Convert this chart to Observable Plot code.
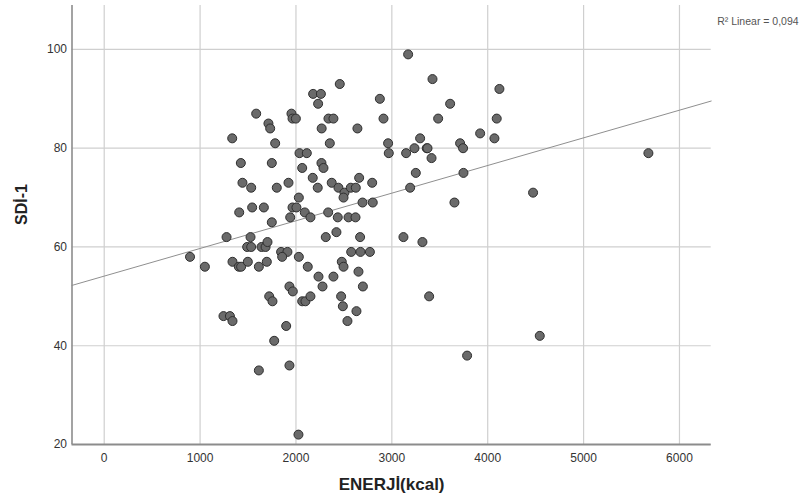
<!DOCTYPE html>
<html>
<head>
<meta charset="utf-8">
<script src="https://cdn.jsdelivr.net/npm/d3@7"></script>
<script src="https://cdn.jsdelivr.net/npm/@observablehq/plot@0.6"></script>
<style>
  html, body { margin: 0; padding: 0; background: #fff; }
</style>
</head>
<body>
<div id="chart"></div>
<script>
// ENERJİ (kcal) values
const energy = [
  1585, 1713, 1731, 1953, 1964, 1999, 1335, 1783, 2037, 2113,
  1425, 1748, 2065, 1442, 1533, 1800, 1922, 2030, 1408, 1543,
  1665, 1964, 2005, 2092, 1748, 1940, 2151, 2179, 2260, 2231,
  2457, 2339, 2391, 2268, 2641, 2353, 2175, 2227, 2266, 2287,
  2373, 2443, 2506, 2496, 2572, 2624, 2659, 2795, 2694, 2801,
  2875, 2913, 2961, 2968, 3170, 3149, 3236, 3295, 3250, 3191,
  3364, 2336, 2436, 2548, 2621, 3424, 4122, 3608, 3483, 4094,
  3921, 4070, 3372, 3712, 3743, 3414, 3747, 4473, 3653, 5676,
  4543, 3121, 3319, 3389, 3785, 1276, 1526, 895, 1050, 1338,
  1404, 1428, 1498, 1491, 1533, 1613, 1641, 1683, 1703, 1696,
  1845, 1911, 1856, 2030, 2123, 1932, 1967, 2065, 2099, 2151,
  1721, 1755, 1244, 1311, 1338, 1898, 1773, 1613, 1932, 2026,
  2311, 2422, 2669, 2576, 2673, 2771, 2478, 2496, 2652, 2235,
  2391, 2277, 2698, 2471, 2489, 2631, 2537
];
// SDİ-1 values
const sdi = [
  87, 85, 84, 87, 86, 86, 82, 81, 79, 79,
  77, 77, 76, 73, 72, 72, 73, 70, 67, 68,
  68, 68, 68, 67, 65, 66, 66, 91, 91, 89,
  93, 86, 86, 84, 84, 81, 74, 72, 77, 76,
  73, 72, 71, 70, 72, 72, 74, 73, 69, 69,
  90, 86, 81, 79, 99, 79, 80, 82, 75, 72,
  80, 67, 66, 66, 66, 94, 92, 89, 86, 86,
  83, 82, 80, 81, 80, 78, 75, 71, 69, 79,
  42, 62, 61, 50, 38, 62, 62, 58, 56, 57,
  56, 56, 57, 60, 60, 56, 60, 60, 61, 57,
  59, 59, 58, 58, 56, 52, 51, 49, 49, 50,
  50, 49, 46, 46, 45, 44, 41, 35, 36, 22,
  62, 63, 62, 59, 59, 59, 57, 56, 55, 54,
  54, 52, 52, 50, 48, 47, 45
];
const xTicks = [0, 1000, 2000, 3000, 4000, 5000, 6000];
const yTicks = [20, 40, 60, 80, 100];
const xLabel = "ENERJİ(kcal)";
const yLabel = "SDİ-1";
const fitIntercept = 54.1;   // fitted line
const fitSlope = 0.0056;
const r2Label = "R² Linear = 0,094";

const xDomain = [-336, 6331];
const yDomain = [20, 108.9];

const points = energy.map((e, i) => ({x: e, y: sdi[i]}));
const fit = xDomain.map(x => ({x, y: fitIntercept + fitSlope * x}));

const font = "'Liberation Sans', Arial, Helvetica, sans-serif";
const plain = d => String(d);

const chart = Plot.plot({
  width: 809,
  height: 504,
  marginLeft: 71.5,
  marginRight: 98.3,
  marginTop: 5,
  marginBottom: 60,
  style: {fontFamily: font, background: "#fff", color: "#333"},
  x: {domain: xDomain, ticks: xTicks, tickSize: 0, tickPadding: 9, label: null, tickFormat: plain},
  y: {domain: yDomain, ticks: yTicks, tickSize: 0, tickPadding: 5, label: null, tickFormat: plain},
  marks: [
    Plot.gridX(xTicks, {stroke: "#cfcfcf", strokeOpacity: 1, strokeWidth: 1.2}),
    Plot.gridY(yTicks, {stroke: "#cfcfcf", strokeOpacity: 1, strokeWidth: 1.2}),
    Plot.axisX(xTicks, {tickSize: 0, tickPadding: 9, fontSize: 12, fill: "#333", label: null, tickFormat: plain}),
    Plot.axisY(yTicks, {tickSize: 0, tickPadding: 5, fontSize: 12, fill: "#333", label: null, tickFormat: plain}),
    Plot.ruleX([xDomain[0]], {stroke: "#8c8c8c", strokeWidth: 1.6}),
    Plot.ruleY([yDomain[0]], {stroke: "#8c8c8c", strokeWidth: 2}),
    Plot.line(fit, {x: "x", y: "y", stroke: "#8f8f8f", strokeWidth: 1}),
    Plot.dot(points, {x: "x", y: "y", r: 4.5, fill: "#6a6a6a", stroke: "#2e2e2e", strokeWidth: 1}),
    Plot.text([xLabel], {frameAnchor: "bottom", dy: 45, fontSize: 17, fontWeight: "bold", fill: "#222"}),
    Plot.text([yLabel], {frameAnchor: "left", dx: -50, rotate: -90, fontSize: 16, fontWeight: "bold", fill: "#222"}),
    Plot.text([r2Label], {frameAnchor: "top-right", textAnchor: "start", dx: 6, dy: 12, fontSize: 10.5, fill: "#555"})
  ]
});
document.getElementById("chart").appendChild(chart);
</script>
</body>
</html>
